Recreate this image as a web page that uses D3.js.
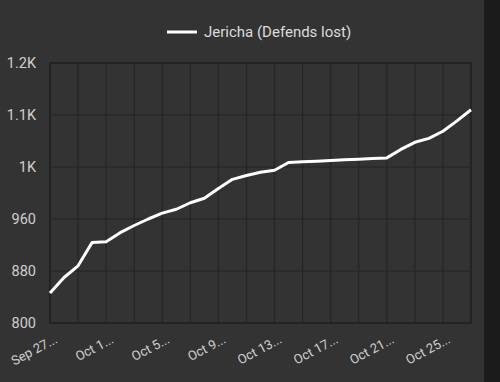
<!DOCTYPE html>
<html>
<head>
<meta charset="utf-8">
<script src="https://cdn.jsdelivr.net/npm/d3@7"></script>
<style>
  html, body { margin: 0; padding: 0; background: #333333; }
  svg { display: block; }
</style>
</head>
<body>
<svg id="chart" width="500" height="382"></svg>
<script>
const seriesName = "Jericha (Defends lost)";
const dates = ["Sep 27","Sep 28","Sep 29","Sep 30","Oct 1","Oct 2","Oct 3","Oct 4","Oct 5","Oct 6","Oct 7","Oct 8","Oct 9","Oct 10","Oct 11","Oct 12","Oct 13","Oct 14","Oct 15","Oct 16","Oct 17","Oct 18","Oct 19","Oct 20","Oct 21","Oct 22","Oct 23","Oct 24","Oct 25","Oct 26","Oct 27"];
const values = [846,870,888,924,925,939,950,960,969,975,985,992,1007,1021,1027,1032,1035,1047,1048,1049,1050,1051,1052,1053,1054,1067,1078,1084,1095,1111,1128];
const yTicks = [800,880,960,1040,1120,1200];
const yTickLabels = ["800","880","960","1K","1.1K","1.2K"];
const xLabelEvery = 4;
const xGridEvery = 2;

const svg = d3.select("#chart");
const W = 500, H = 382;
const m = {left: 50, right: 29, top: 63, bottom: 59};

svg.append("rect").attr("x",0).attr("y",0).attr("width",W).attr("height",H).attr("fill","#333333");
svg.append("rect").attr("x",484).attr("y",0).attr("width",16).attr("height",H).attr("fill","#1b1b1b");

const x = d3.scaleLinear().domain([0, dates.length-1]).range([m.left, W - m.right]);
const y = d3.scaleLinear().domain([800,1200]).range([H - m.bottom, m.top]);

// grid
const g = svg.append("g");
const gridX = d3.range(0, dates.length, xGridEvery);
g.selectAll("line.vx").data(gridX).enter().append("line")
  .attr("x1", d=>x(d)).attr("x2", d=>x(d)).attr("y1", y(1200)).attr("y2", y(800))
  .attr("stroke","#252525").attr("stroke-width",1.2);
g.selectAll("line.hy").data(yTicks).enter().append("line")
  .attr("x1", x(0)).attr("x2", x(dates.length-1)).attr("y1", d=>y(d)).attr("y2", d=>y(d))
  .attr("stroke","#252525").attr("stroke-width",1.2);
// border
g.append("rect").attr("x", x(0)).attr("y", y(1200)).attr("width", x(dates.length-1)-x(0)).attr("height", y(800)-y(1200))
  .attr("fill","none").attr("stroke","#232323").attr("stroke-width",2);

// y labels
svg.selectAll("text.yl").data(yTicks).enter().append("text")
  .attr("x", 36).attr("y", d=>y(d)).attr("dy","0.36em")
  .attr("text-anchor","end")
  .attr("font-family","Roboto, sans-serif").attr("font-size",14.5)
  .attr("fill","#cfcfcf")
  .text((d,i)=>yTickLabels[i]);

// x labels
const xl = d3.range(0, dates.length, xLabelEvery);
svg.selectAll("text.xl").data(xl).enter().append("text")
  .attr("transform", d=>`translate(${x(d)+4},${334}) rotate(-28)`)
  .attr("dy","0.71em")
  .attr("text-anchor","end")
  .attr("font-family","Roboto, sans-serif").attr("font-size",13)
  .attr("fill","#cfcfcf")
  .text(d=>dates[d] + "...");

// line
const line = d3.line().x((d,i)=>x(i)).y(d=>y(d));
svg.append("path").datum(values).attr("d", line)
  .attr("fill","none").attr("stroke","#ffffff").attr("stroke-width",3)
  .attr("stroke-linejoin","round");

// legend
svg.append("line").attr("x1",167).attr("x2",197).attr("y1",32).attr("y2",32)
  .attr("stroke","#ffffff").attr("stroke-width",3);
svg.append("text").attr("x",204).attr("y",32).attr("dy","0.36em")
  .attr("font-family","Roboto, sans-serif").attr("font-size",15)
  .attr("fill","#dcdcdc").text(seriesName);
</script>
</body>
</html>
